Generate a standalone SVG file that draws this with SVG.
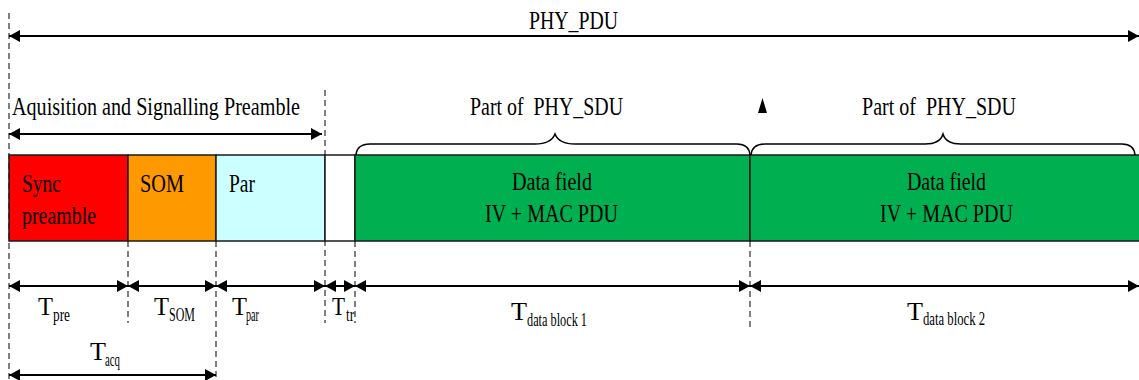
<svg xmlns="http://www.w3.org/2000/svg" width="1139" height="380" viewBox="0 0 1139 380" font-family="'Liberation Serif', 'DejaVu Serif', serif">
<defs>
<marker id="ah" markerUnits="userSpaceOnUse" viewBox="0 0 11 12" refX="11" refY="6" markerWidth="11" markerHeight="12" orient="auto-start-reverse">
<path d="M0,0 L11,6 L0,12 z" fill="#000"/>
</marker>
<style>
text{font-family:'Liberation Serif','DejaVu Serif',serif;fill:#000;}
.t{font-size:26px;}
.s{font-size:18px;}
.box{stroke:#1a1a1a;stroke-width:1.5;}
.dash{stroke:#000;stroke-width:1;stroke-dasharray:6,4;fill:none;}
.arr{stroke:#000;stroke-width:2;fill:none;marker-start:url(#ah);marker-end:url(#ah);}
.brace{stroke:#000;stroke-width:1.5;fill:none;}
</style>
</defs>
<rect width="1139" height="380" fill="#fff"/>

<g id="guides">
<line class="dash" x1="9" y1="13" x2="9" y2="380"/>
<line class="dash" x1="128" y1="241" x2="128" y2="323"/>
<line class="dash" x1="216" y1="241" x2="216" y2="378"/>
<line class="dash" x1="325" y1="90" x2="325" y2="323"/>
<line class="dash" x1="355" y1="241" x2="355" y2="323"/>
<line class="dash" x1="750" y1="241" x2="750" y2="328"/>
</g>

<g id="sync">
<rect class="box" x="9" y="155" width="119" height="86" fill="#ff0000"/>
<text class="t" x="22" y="192" textLength="39" lengthAdjust="spacingAndGlyphs">Sync</text>
<text class="t" x="22" y="224" textLength="74" lengthAdjust="spacingAndGlyphs">preamble</text>
</g>
<g id="som">
<rect class="box" x="128" y="155" width="88" height="86" fill="#ff9900"/>
<text class="t" x="140" y="192" textLength="44" lengthAdjust="spacingAndGlyphs">SOM</text>
</g>
<g id="par">
<rect class="box" x="216" y="155" width="109" height="86" fill="#ccffff"/>
<text class="t" x="229" y="192" textLength="26" lengthAdjust="spacingAndGlyphs">Par</text>
</g>
<g id="gap">
<rect class="box" x="325" y="155" width="30" height="86" fill="#ffffff"/>
</g>
<g id="data1">
<rect class="box" x="355" y="155" width="395" height="86" fill="#00b050"/>
<text class="t" x="512" y="190" textLength="80" lengthAdjust="spacingAndGlyphs">Data field</text>
<text class="t" x="485" y="222" textLength="133" lengthAdjust="spacingAndGlyphs">IV + MAC PDU</text>
</g>
<g id="data2">
<rect class="box" x="750" y="155" width="395" height="86" fill="#00b050"/>
<text class="t" x="907" y="190" textLength="79" lengthAdjust="spacingAndGlyphs">Data field</text>
<text class="t" x="880" y="222" textLength="133" lengthAdjust="spacingAndGlyphs">IV + MAC PDU</text>
</g>

<g id="phy-pdu">
<text class="t" x="529" y="29" textLength="89" lengthAdjust="spacingAndGlyphs">PHY_PDU</text>
</g>
<g id="preamble-label">
<text class="t" x="12" y="115" textLength="288" lengthAdjust="spacingAndGlyphs">Aquisition and Signalling Preamble</text>
</g>
<g id="sdu1">
<text class="t" x="470" y="115" textLength="153" lengthAdjust="spacingAndGlyphs" xml:space="preserve">Part of  PHY_SDU</text>
<path class="brace" d="M356,155 Q357,144 370,144 L535,144 Q551,144 555,134 Q559,144 575,144 L737,144 Q749,144 750,155"/>
</g>
<g id="sdu2">
<text class="t" x="862" y="115" textLength="154" lengthAdjust="spacingAndGlyphs" xml:space="preserve">Part of  PHY_SDU</text>
<path class="brace" d="M751,155 Q752,144 765,144 L925,144 Q940,144 943,134 Q946,144 961,144 L1122,144 Q1134,144 1135,155"/>
</g>
<g id="marker-tri">
<path d="M762.5,98 L758,113 L767,113 z" fill="#000"/>
</g>

<g id="connectors">
<line class="arr" x1="9" y1="36" x2="1139" y2="36"/>
<line class="arr" x1="9" y1="134" x2="322" y2="134"/>
<line class="arr" x1="9" y1="286" x2="128" y2="286"/>
<line class="arr" x1="128" y1="286" x2="216" y2="286"/>
<line class="arr" x1="216" y1="286" x2="325" y2="286"/>
<line class="arr" x1="325" y1="286" x2="355" y2="286"/>
<line class="arr" x1="355" y1="286" x2="750" y2="286"/>
<line class="arr" x1="750" y1="286" x2="1139" y2="286"/>
<line class="arr" x1="9" y1="375" x2="216" y2="375"/>
</g>

<g id="timing-labels">
<text class="t" x="38" y="315" textLength="15" lengthAdjust="spacingAndGlyphs">T</text>
<text class="s" x="53" y="321" textLength="17" lengthAdjust="spacingAndGlyphs">pre</text>
<text class="t" x="154" y="315" textLength="15" lengthAdjust="spacingAndGlyphs">T</text>
<text class="s" x="169" y="321" textLength="26" lengthAdjust="spacingAndGlyphs">SOM</text>
<text class="t" x="232" y="315" textLength="15" lengthAdjust="spacingAndGlyphs">T</text>
<text class="s" x="246" y="321" textLength="13" lengthAdjust="spacingAndGlyphs">par</text>
<text class="t" x="332" y="315" textLength="13" lengthAdjust="spacingAndGlyphs">T</text>
<text class="s" x="346" y="321" textLength="8" lengthAdjust="spacingAndGlyphs">tr</text>
<text class="t" x="511" y="320" textLength="16" lengthAdjust="spacingAndGlyphs">T</text>
<text class="s" x="527" y="326" textLength="60" lengthAdjust="spacingAndGlyphs">data block 1</text>
<text class="t" x="907" y="320" textLength="16" lengthAdjust="spacingAndGlyphs">T</text>
<text class="s" x="923" y="325" textLength="62" lengthAdjust="spacingAndGlyphs">data block 2</text>
<text class="t" x="90" y="360" textLength="16" lengthAdjust="spacingAndGlyphs">T</text>
<text class="s" x="105" y="366" textLength="15" lengthAdjust="spacingAndGlyphs">acq</text>
</g>
</svg>
